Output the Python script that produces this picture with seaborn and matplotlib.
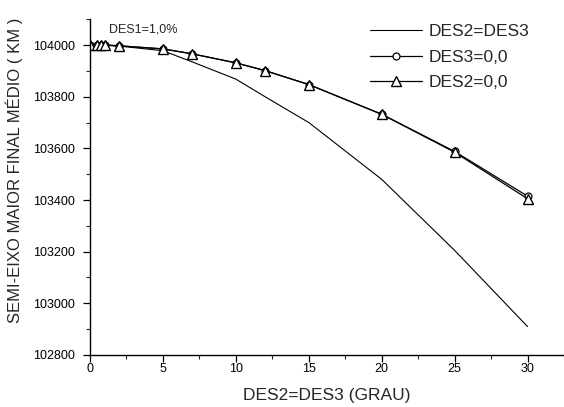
import matplotlib
matplotlib.use("Agg")
import matplotlib.pyplot as plt
import seaborn as sns
import pandas as pd
from matplotlib.ticker import MultipleLocator

sns.set_theme(style="ticks")
plt.rcParams['font.family'] = ['Liberation Sans', 'DejaVu Sans']

x_vals = [0, 0.5, 0.75, 1, 2, 5, 7, 10, 12, 15, 20, 25, 30]
des2_eq_des3 = [104000, 104000, 103999, 103999, 103996, 103978, 103935, 103868, 103800, 103700, 103480, 103205, 102910]
des3_zero = [104000, 104000, 104000, 104000, 103997, 103985, 103966, 103931, 103901, 103847, 103732, 103588, 103415]
des2_zero = [104000, 104000, 104000, 104000, 103997, 103985, 103966, 103931, 103901, 103847, 103732, 103585, 103405]
labels = ["DES2=DES3", "DES3=0,0", "DES2=0,0"]

df = pd.DataFrame({"x": x_vals, "a": des2_eq_des3, "b": des3_zero, "c": des2_zero})

fig = plt.figure(figsize=(5.64, 4.07), dpi=100)
ax = fig.add_axes([0.1596, 0.1278, 0.8404, 0.825])

sns.lineplot(data=df, x="x", y="a", ax=ax, color="black", lw=0.8, label=labels[0])
sns.lineplot(data=df, x="x", y="b", ax=ax, color="black", lw=0.9, marker="o",
             markersize=5, markerfacecolor="white", markeredgecolor="black",
             markeredgewidth=0.9, label=labels[1])
sns.lineplot(data=df, x="x", y="c", ax=ax, color="black", lw=0.9, marker="^",
             markersize=7, markerfacecolor="white", markeredgecolor="black",
             markeredgewidth=1.0, label=labels[2])

ax.set_xlim(0, 32.5)
ax.set_ylim(102800, 104100)
ax.xaxis.set_major_locator(MultipleLocator(5))
ax.xaxis.set_minor_locator(MultipleLocator(2.5))
ax.yaxis.set_major_locator(MultipleLocator(200))
ax.yaxis.set_minor_locator(MultipleLocator(100))
ax.tick_params(which="major", direction="out", length=5, width=0.9, labelsize=9, colors="black")
ax.tick_params(which="minor", direction="out", length=3, width=0.8)
ax.tick_params(axis="x", which="major", pad=1)
ax.tick_params(axis="y", which="major", pad=6)
for s in ["top", "right"]:
    ax.spines[s].set_visible(False)
for s in ["left", "bottom"]:
    ax.spines[s].set_color("black")
    ax.spines[s].set_linewidth(1.0)

ax.set_xlabel("DES2=DES3 (GRAU)", fontsize=12.5, labelpad=9)
ax.set_ylabel("SEMI-EIXO MAIOR FINAL MÉDIO ( KM )", fontsize=12)
ax.yaxis.set_label_coords(-0.142, 0.55)
ax.text(1.3, 104062, "DES1=1,0%", fontsize=9, va="center", ha="left")

leg = ax.legend(loc="upper right", bbox_to_anchor=(529 / 564, 1 - 24 / 407),
                bbox_transform=fig.transFigure, frameon=False,
                fontsize=12.5, handlelength=3.0, handletextpad=0.35, labelspacing=0.6,
                borderaxespad=0, borderpad=0)
fig.savefig("out.png", dpi=100)
